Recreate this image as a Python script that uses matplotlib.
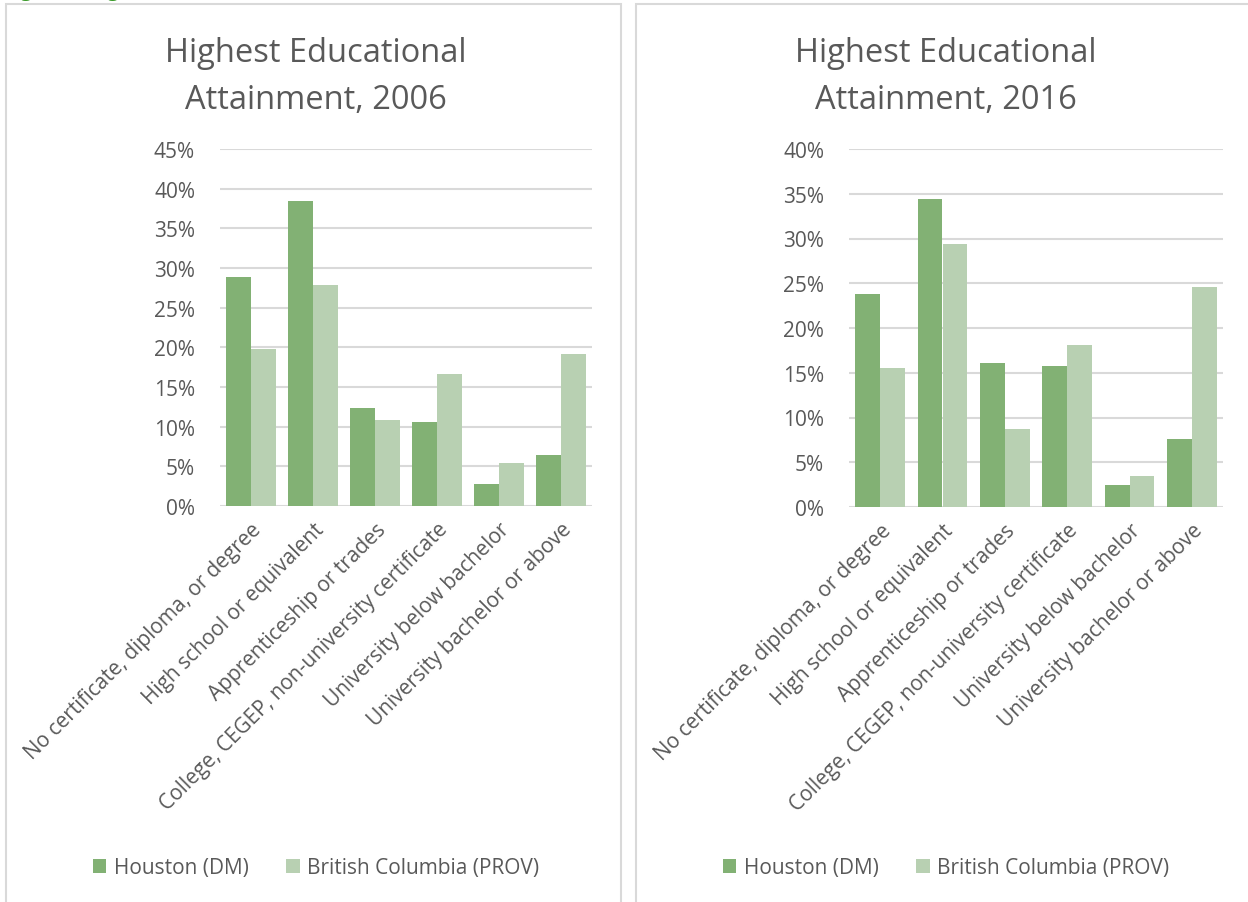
import numpy as np
import matplotlib
matplotlib.use("Agg")
import matplotlib.pyplot as plt
from matplotlib.patches import Rectangle

categories = ["No certificate, diploma, or degree", "High school or equivalent",
              "Apprenticeship or trades", "College, CEGEP, non-university certificate",
              "University below bachelor", "University bachelor or above"]
series_names = ["Houston (DM)", "British Columbia (PROV)"]
houston_2006 = [28.9, 38.5, 12.4, 10.6, 2.8, 6.4]
bc_2006 = [19.8, 27.8, 10.8, 16.6, 5.4, 19.2]
houston_2016 = [23.8, 34.4, 16.1, 15.7, 2.5, 7.6]
bc_2016 = [15.5, 29.4, 8.7, 18.1, 3.5, 24.6]
yticks_2006 = [0, 5, 10, 15, 20, 25, 30, 35, 40, 45]
yticks_2016 = [0, 5, 10, 15, 20, 25, 30, 35, 40]

dark = "#82B174"
light = "#B8D0B2"
grid = "#D9D9D9"
txt = "#595959"

plt.rcParams['font.family'] = ['Open Sans', 'DejaVu Sans']

fig = plt.figure(figsize=(12.48, 9.03), dpi=100)

# panel frames
for x0, x1 in [(6, 621), (636, 1252)]:
    fig.patches.append(Rectangle((x0 / 1248, -0.01), (x1 - x0) / 1248, 1 - 5 / 903 + 0.01,
                                 transform=fig.transFigure, fill=False,
                                 edgecolor=grid, linewidth=1.5))

# caption above the crop, only its descenders peek in
fig.text(0.005, 1 + 3 / 903, "Figure 9: Highest Educational Attainment", color="#3A9A2A",
         fontsize=14, va="baseline", ha="left")


def draw(rect, hou, bc, ticks, title, center):
    ax = fig.add_axes(rect)
    x = np.arange(len(categories))
    w = 0.4
    ax.bar(x - w / 2, hou, w, color=dark, label=series_names[0], zorder=3)
    ax.bar(x + w / 2, bc, w, color=light, label=series_names[1], zorder=3)
    ax.set_xlim(-0.5, len(categories) - 0.5)
    ax.set_ylim(0, ticks[-1])
    ax.set_yticks(ticks)
    ax.set_yticklabels([f"{t}%" for t in ticks], color=txt, fontsize=15)
    ax.yaxis.grid(True, color=grid, linewidth=1.5, zorder=0)
    ax.set_xticks(x)
    ax.set_xticklabels(categories, rotation=45, ha="right", rotation_mode="anchor",
                       color=txt, fontsize=15)
    ax.tick_params(length=0, pad=9)
    ax.tick_params(axis="y", pad=18)
    for s in ax.spines.values():
        s.set_visible(False)
    fig.text(center / 1248, 1 - 77 / 903, title, ha="center", va="center",
             fontsize=23.5, color=txt, linespacing=1.55)
    h, l = ax.get_legend_handles_labels()
    fig.legend(h, l, loc="center", bbox_to_anchor=(center / 1248, 1 - 869 / 903),
               ncol=2, frameon=False, fontsize=15, labelcolor=txt,
               handlelength=0.65, handleheight=0.65, handletextpad=0.35, columnspacing=1.8)
    return ax


draw([220 / 1248, 1 - 507 / 903, 372 / 1248, 357 / 903], houston_2006, bc_2006,
     yticks_2006, "Highest Educational\nAttainment, 2006", 316)
draw([849 / 1248, 1 - 508 / 903, 374 / 1248, 358 / 903], houston_2016, bc_2016,
     yticks_2016, "Highest Educational\nAttainment, 2016", 946)

fig.savefig("out.png", dpi=100)
